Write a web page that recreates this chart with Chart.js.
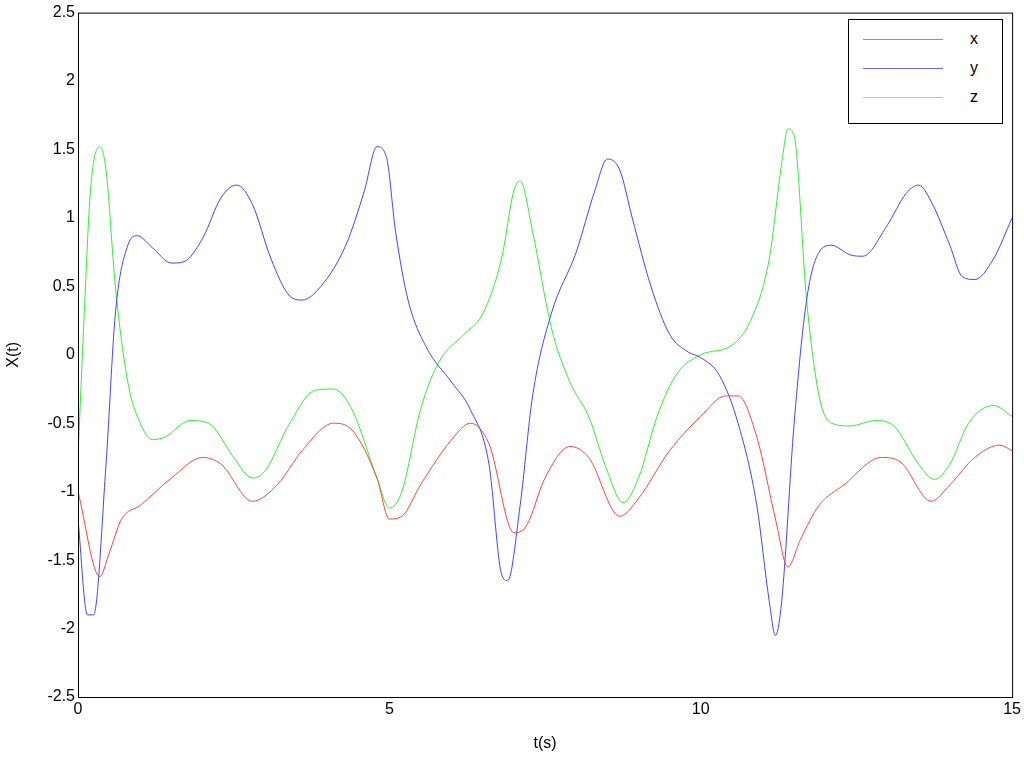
<!DOCTYPE html><html><head><meta charset="utf-8">
<script src="https://cdn.jsdelivr.net/npm/chart.js@4/dist/chart.umd.min.js"></script>
<style>body{margin:0;background:#fff}#w{position:relative;width:1024px;height:757px}
#lg{position:absolute;left:848px;top:19px;width:153px;height:103px;border:1px solid #000;background:#fff;font:16px "Liberation Sans",Arial,sans-serif}
.ln{position:absolute;left:14px;width:80px;height:0}.tx{position:absolute;left:121px}</style></head><body>
<div id="w"><canvas id="c" width="1024" height="757"></canvas>
<div id="lg"><div class="ln" style="top:19px;border-top:1px solid #f66"></div><div class="tx" style="top:10px">x</div>
<div class="ln" style="top:48px;border-top:1px solid #66f"></div><div class="tx" style="top:39px">y</div>
<div class="ln" style="top:77px;border-top:1px solid #6f6"></div><div class="tx" style="top:68px">z</div></div></div>
<script>
const xT=[0,0.35,0.5,0.7,1,1.5,2,2.3,2.8,3.2,3.6,4.1,4.4,4.8,5.0,5.2,5.5,6.0,6.3,6.6,7.0,7.2,7.5,7.9,8.2,8.7,9.0,9.5,10,10.4,10.6,10.9,11.2,11.4,11.6,11.9,12.3,12.9,13.2,13.7,14.0,14.4,14.8,15];
const xV=[-1.0,-1.62,-1.45,-1.2,-1.1,-0.9,-0.75,-0.8,-1.07,-0.95,-0.7,-0.5,-0.55,-0.9,-1.2,-1.18,-0.95,-0.62,-0.5,-0.65,-1.3,-1.25,-0.9,-0.67,-0.75,-1.18,-1.05,-0.7,-0.45,-0.3,-0.3,-0.6,-1.2,-1.55,-1.35,-1.1,-0.95,-0.75,-0.78,-1.07,-0.95,-0.75,-0.66,-0.7];
const yT=[0,0.15,0.25,0.45,0.6,0.8,0.95,1.2,1.5,1.7,2.0,2.3,2.55,2.8,3.1,3.4,3.6,3.9,4.3,4.6,4.8,4.95,5.1,5.3,5.6,6.0,6.3,6.6,6.8,6.9,7.1,7.3,7.6,8.0,8.3,8.5,8.7,8.9,9.2,9.5,9.8,10.0,10.3,10.6,10.9,11.1,11.2,11.3,11.5,11.7,11.9,12.1,12.4,12.6,13.0,13.3,13.5,13.7,14.0,14.2,14.4,14.7,15];
const yV=[-1.2,-1.9,-1.9,-0.8,0.3,0.8,0.87,0.78,0.67,0.68,0.85,1.15,1.24,1.1,0.7,0.43,0.4,0.5,0.8,1.2,1.52,1.45,0.9,0.4,0.05,-0.2,-0.4,-0.8,-1.6,-1.65,-1.1,-0.3,0.3,0.75,1.2,1.43,1.35,1.0,0.5,0.15,0.02,-0.02,-0.15,-0.5,-1.1,-1.8,-2.05,-1.8,-0.5,0.4,0.75,0.8,0.73,0.72,0.95,1.18,1.24,1.12,0.8,0.57,0.55,0.7,1.0];
const zT=[0,0.1,0.2,0.35,0.45,0.6,0.8,1.0,1.2,1.4,1.8,2.1,2.5,2.8,3.0,3.4,3.8,4.1,4.4,4.8,5.0,5.2,5.5,5.8,6.2,6.5,6.8,7.0,7.1,7.3,7.6,7.9,8.2,8.5,8.75,9.0,9.3,9.6,10.0,10.5,10.8,11.1,11.3,11.4,11.5,11.7,11.9,12.1,12.4,12.8,13.1,13.5,13.75,14.0,14.3,14.7,15];
const zV=[-0.75,0.3,1.2,1.52,1.35,0.5,-0.2,-0.5,-0.62,-0.6,-0.48,-0.5,-0.75,-0.9,-0.85,-0.5,-0.26,-0.25,-0.4,-0.9,-1.12,-1.0,-0.4,-0.05,0.15,0.3,0.7,1.2,1.27,0.9,0.2,-0.2,-0.45,-0.85,-1.08,-0.9,-0.45,-0.15,0.0,0.07,0.25,0.7,1.4,1.65,1.6,0.4,-0.3,-0.5,-0.52,-0.48,-0.52,-0.8,-0.91,-0.8,-0.5,-0.37,-0.45];
const pts=(t,v)=>t.map((a,i)=>({x:a,y:v[i]}));
const F={family:'"Liberation Sans", Arial, sans-serif',size:16};
const box={id:'box',afterDraw(c){const a=c.chartArea,g=c.ctx;g.save();g.strokeStyle='#000';g.lineWidth=1;g.strokeRect(a.left+.5,a.top+.5,a.right-a.left,a.bottom-a.top);g.restore();}};
const ds=(t,v,col)=>({data:pts(t,v),borderColor:col,borderWidth:1,pointRadius:0,cubicInterpolationMode:'monotone'});
new Chart(document.getElementById('c'),{type:'line',data:{datasets:[ds(xT,xV,'#f44'),ds(yT,yV,'#44f'),ds(zT,zV,'#3e3')]},
options:{responsive:false,animation:false,layout:{padding:{top:8,right:11,left:0,bottom:0}},plugins:{legend:{display:false},tooltip:{enabled:false}},
scales:{x:{type:'linear',min:0,max:15,afterFit(s){s.height=60},ticks:{stepSize:5,color:'#000',font:F},grid:{display:false,drawTicks:false},border:{display:false},title:{display:true,text:'t(s)',color:'#000',font:F,padding:{top:8}}},
y:{min:-2.5,max:2.5,afterFit(s){s.width=78},ticks:{stepSize:0.5,color:'#000',font:F,callback:v=>String(Math.round(v*10)/10)},grid:{display:false,drawTicks:false},border:{display:false},title:{display:true,text:'X(t)',color:'#000',font:F}}}},plugins:[box]});
</script></body></html>
